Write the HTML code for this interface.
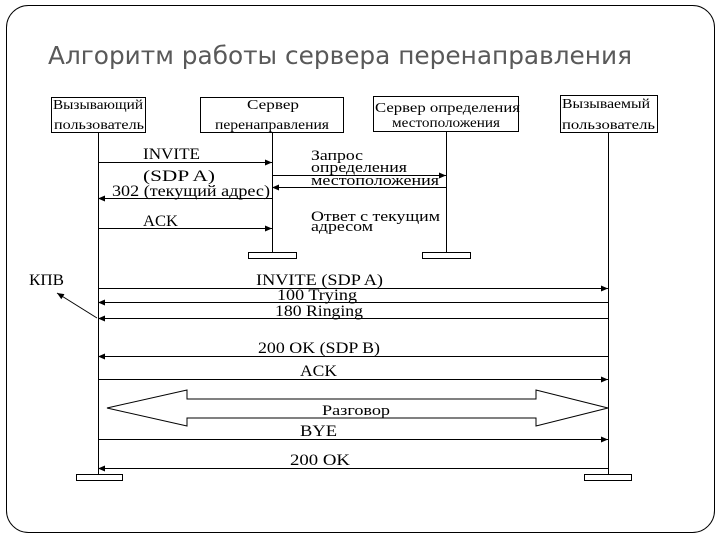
<!DOCTYPE html>
<html><head><meta charset="utf-8"><style>
html,body{margin:0;padding:0;background:#fff;width:720px;height:540px;overflow:hidden}
svg{display:block}
.s{font-family:"Liberation Serif",serif;fill:#000}
</style></head><body>
<svg width="720" height="540" viewBox="0 0 720 540" xmlns="http://www.w3.org/2000/svg">
<defs>
<marker id="a" markerWidth="8" markerHeight="8" refX="7" refY="4" orient="auto" markerUnits="userSpaceOnUse"><path d="M0,1 L7,4 L0,7z" fill="#000"/></marker>
</defs>
<rect x="6.5" y="5.5" width="708" height="527" rx="22" fill="none" stroke="#000" stroke-width="1"/>
<text x="48" y="64" font-family="'DejaVu Sans','Liberation Sans',sans-serif" font-size="24.5" fill="#595959" textLength="584" lengthAdjust="spacingAndGlyphs">Алгоритм работы сервера перенаправления</text>
<g stroke="#000" stroke-width="1" fill="none">
<rect x="51.5" y="97.5" width="94" height="35"/>
<rect x="200.5" y="97.5" width="143" height="35"/>
<rect x="373.5" y="96.5" width="145" height="35"/>
<rect x="560.5" y="95.5" width="97" height="37"/>
<line x1="98.5" y1="132" x2="98.5" y2="474"/>
<line x1="272.5" y1="132" x2="272.5" y2="252"/>
<line x1="446.5" y1="131" x2="446.5" y2="252"/>
<line x1="608.5" y1="132" x2="608.5" y2="474"/>
<rect x="248.5" y="252.5" width="48" height="6"/>
<rect x="422.5" y="252.5" width="48" height="6"/>
<rect x="76.5" y="474.5" width="46" height="6"/>
<rect x="584.5" y="474.5" width="47" height="6"/>
<line x1="98" y1="162.5" x2="272" y2="162.5" marker-end="url(#a)"/>
<line x1="272" y1="198.5" x2="98" y2="198.5" marker-end="url(#a)"/>
<line x1="98" y1="228.5" x2="272" y2="228.5" marker-end="url(#a)"/>
<line x1="272" y1="175.5" x2="446" y2="175.5" marker-end="url(#a)"/>
<line x1="446" y1="187.5" x2="272" y2="187.5" marker-end="url(#a)"/>
<line x1="98" y1="288.5" x2="608" y2="288.5" marker-end="url(#a)"/>
<line x1="608" y1="302.5" x2="98" y2="302.5" marker-end="url(#a)"/>
<line x1="608" y1="318.5" x2="98" y2="318.5" marker-end="url(#a)"/>
<line x1="608" y1="356.5" x2="98" y2="356.5" marker-end="url(#a)"/>
<line x1="98" y1="379.5" x2="608" y2="379.5" marker-end="url(#a)"/>
<line x1="98" y1="439.5" x2="608" y2="439.5" marker-end="url(#a)"/>
<line x1="608" y1="468.5" x2="98" y2="468.5" marker-end="url(#a)"/>
<line x1="97" y1="318" x2="57" y2="293" marker-end="url(#a)"/>
<path d="M107,408 L187,390 L187,399 L536,399 L536,390 L608,408 L536,426 L536,418 L187,418 L187,426 Z"/>
</g>
<g class="s" font-size="13.5" lengthAdjust="spacingAndGlyphs">
<text x="53" y="109" textLength="90" lengthAdjust="spacingAndGlyphs">Вызывающий</text>
<text x="54" y="129" textLength="90" lengthAdjust="spacingAndGlyphs">пользователь</text>
<text x="247" y="109" textLength="52" lengthAdjust="spacingAndGlyphs">Сервер</text>
<text x="215" y="129" textLength="114" lengthAdjust="spacingAndGlyphs">перенаправления</text>
<text x="375" y="112" textLength="145" lengthAdjust="spacingAndGlyphs">Сервер определения</text>
<text x="392" y="127" textLength="108" lengthAdjust="spacingAndGlyphs">местоположения</text>
<text x="562" y="108" textLength="88" lengthAdjust="spacingAndGlyphs">Вызываемый</text>
<text x="562" y="129" textLength="93" lengthAdjust="spacingAndGlyphs">пользователь</text>
</g>
<g class="s" font-size="16">
<text x="143" y="159" textLength="57" lengthAdjust="spacingAndGlyphs">INVITE</text>
<text x="143" y="181" textLength="72" lengthAdjust="spacingAndGlyphs">(SDP A)</text>
<text x="112" y="196" textLength="158" lengthAdjust="spacingAndGlyphs">302 (текущий адрес)</text>
<text x="143" y="226" textLength="35" lengthAdjust="spacingAndGlyphs">ACK</text>
<text x="311" y="160" font-size="15" textLength="52" lengthAdjust="spacingAndGlyphs">Запрос</text>
<text x="311" y="172" font-size="15" textLength="96" lengthAdjust="spacingAndGlyphs">определения</text>
<text x="311" y="185" font-size="15" textLength="128" lengthAdjust="spacingAndGlyphs">местоположения</text>
<text x="311" y="221" font-size="15" textLength="129" lengthAdjust="spacingAndGlyphs">Ответ с текущим</text>
<text x="311" y="231" font-size="15" textLength="62" lengthAdjust="spacingAndGlyphs">адресом</text>
<text x="29" y="285" textLength="35" lengthAdjust="spacingAndGlyphs">КПВ</text>
<text x="256" y="285" textLength="127" lengthAdjust="spacingAndGlyphs">INVITE (SDP A)</text>
<text x="277" y="300" textLength="80" lengthAdjust="spacingAndGlyphs">100 Trying</text>
<text x="275" y="316" textLength="88" lengthAdjust="spacingAndGlyphs">180 Ringing</text>
<text x="258" y="353" textLength="122" lengthAdjust="spacingAndGlyphs">200 OK (SDP B)</text>
<text x="300" y="376" textLength="37" lengthAdjust="spacingAndGlyphs">ACK</text>
<text x="322" y="415" font-size="15" textLength="68" lengthAdjust="spacingAndGlyphs">Разговор</text>
<text x="300" y="436" textLength="37" lengthAdjust="spacingAndGlyphs">BYE</text>
<text x="290" y="465" textLength="60" lengthAdjust="spacingAndGlyphs">200 OK</text>
</g>
</svg>
</body></html>
